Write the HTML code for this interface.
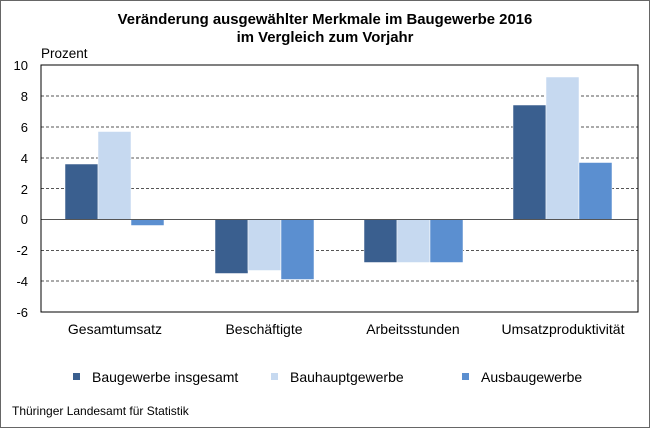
<!DOCTYPE html>
<html><head><meta charset="utf-8"><style>
body{margin:0;background:#fff}
svg text{font-family:"Liberation Sans",Arial,sans-serif;fill:#000}
</style></head><body>
<svg width="651" height="429" xmlns="http://www.w3.org/2000/svg">
<rect x="0.5" y="0.5" width="649" height="427" fill="#fff" stroke="#666"/>
<text x="325" y="24" font-size="14.9" font-weight="bold" text-anchor="middle">Veränderung ausgewählter Merkmale im Baugewerbe 2016</text>
<text x="325" y="42" font-size="14.9" font-weight="bold" text-anchor="middle">im Vergleich zum Vorjahr</text>
<text x="41" y="58" font-size="13.5">Prozent</text>
<g stroke="#555" stroke-dasharray="3,2" stroke-width="1">
<line x1="41" x2="638" y1="65" y2="65"/>
<line x1="41" x2="638" y1="96" y2="96"/>
<line x1="41" x2="638" y1="127" y2="127"/>
<line x1="41" x2="638" y1="158" y2="158"/>
<line x1="41" x2="638" y1="188.5" y2="188.5"/>
<line x1="41" x2="638" y1="250.5" y2="250.5"/>
<line x1="41" x2="638" y1="281" y2="281"/>
</g>
<g font-size="13" text-anchor="end">
<text x="28" y="70">10</text><text x="28" y="101">8</text><text x="28" y="132">6</text><text x="28" y="163">4</text><text x="28" y="194">2</text><text x="28" y="224">0</text><text x="28" y="255">-2</text><text x="28" y="286">-4</text><text x="28" y="317">-6</text>
</g>
<g stroke="#fff" stroke-width="0.5">
<rect x="65" y="164" width="33" height="55.5" fill="#3a5f8f"/>
<rect x="98" y="131.5" width="33" height="88" fill="#c6d9f0"/>
<rect x="131" y="219.5" width="33" height="6" fill="#5b8fd0"/>
<rect x="215" y="219.5" width="33" height="54" fill="#3a5f8f"/>
<rect x="248" y="219.5" width="33" height="51" fill="#c6d9f0"/>
<rect x="281" y="219.5" width="33" height="60" fill="#5b8fd0"/>
<rect x="364" y="219.5" width="33" height="43" fill="#3a5f8f"/>
<rect x="397" y="219.5" width="33" height="43" fill="#c6d9f0"/>
<rect x="430" y="219.5" width="33" height="43" fill="#5b8fd0"/>
<rect x="513" y="105" width="33" height="114.5" fill="#3a5f8f"/>
<rect x="546" y="77" width="33" height="142.5" fill="#c6d9f0"/>
<rect x="579" y="162.5" width="33" height="57" fill="#5b8fd0"/>
</g>
<line x1="41" x2="638" y1="219.5" y2="219.5" stroke="#555"/>
<rect x="41" y="65" width="597" height="247" fill="none" stroke="#000"/>
<g font-size="14" text-anchor="middle">
<text x="115" y="334">Gesamtumsatz</text>
<text x="264" y="334">Beschäftigte</text>
<text x="413" y="334">Arbeitsstunden</text>
<text x="563" y="334">Umsatzproduktivität</text>
</g>
<g font-size="14">
<rect x="73" y="373" width="7" height="7" fill="#3a5f8f"/><text x="92" y="382">Baugewerbe insgesamt</text>
<rect x="271" y="373" width="7" height="7" fill="#c6d9f0"/><text x="290" y="382">Bauhauptgewerbe</text>
<rect x="462" y="373" width="7" height="7" fill="#5b8fd0"/><text x="481" y="382">Ausbaugewerbe</text>
</g>
<text x="12" y="415" font-size="12">Thüringer Landesamt für Statistik</text>
</svg>
</body></html>
